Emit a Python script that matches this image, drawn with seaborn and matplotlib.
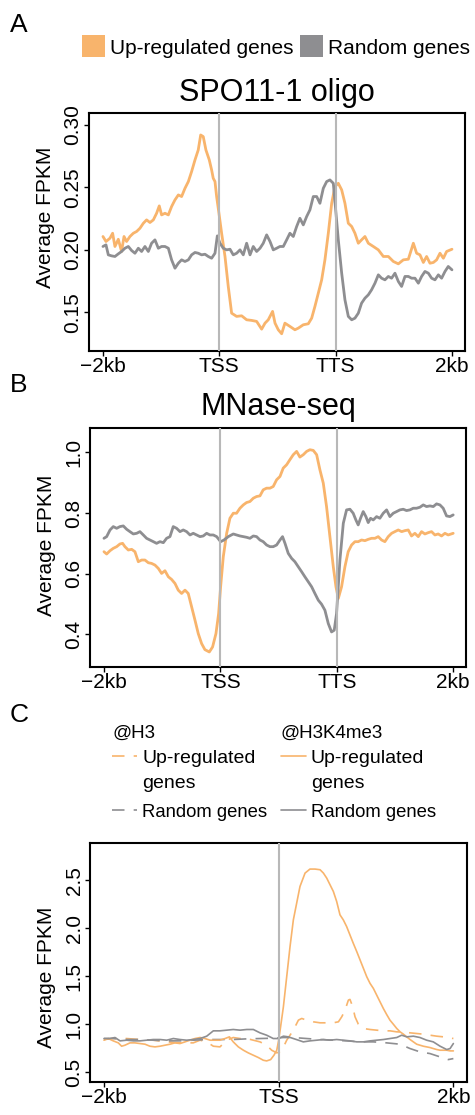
import numpy as np
import pandas as pd
import matplotlib
matplotlib.use("Agg")
import matplotlib.pyplot as plt
from matplotlib.patches import Rectangle
from matplotlib.lines import Line2D
import seaborn as sns

# ---------------------------------------------------------------------------
# Metagene profiles (x: 0 = -2kb, 1 = TSS, 2 = TTS, 3 = +2kb)
# ---------------------------------------------------------------------------
spo_up_x = [0.000, 0.026, 0.060, 0.083, 0.103, 0.132, 0.160, 0.181, 0.203, 0.232,
            0.261, 0.289, 0.318, 0.347, 0.375, 0.404, 0.433, 0.461, 0.484, 0.504,
            0.533, 0.562, 0.590, 0.619, 0.648, 0.676, 0.705, 0.734, 0.762, 0.791,
            0.819, 0.840, 0.862, 0.885, 0.914, 0.934, 0.948, 0.963, 0.977, 0.997,
            1.020, 1.049, 1.077, 1.106, 1.149, 1.192, 1.235, 1.278, 1.321, 1.364,
            1.393, 1.421, 1.458, 1.479, 1.507, 1.536, 1.564, 1.607, 1.650, 1.679,
            1.722, 1.765, 1.794, 1.822, 1.851, 1.880, 1.908, 1.937, 1.966, 1.994,
            2.023, 2.052, 2.080, 2.109, 2.138, 2.166, 2.195, 2.223, 2.252, 2.281,
            2.324, 2.367, 2.410, 2.453, 2.496, 2.539, 2.582, 2.625, 2.668, 2.696,
            2.725, 2.754, 2.782, 2.811, 2.840, 2.868, 2.897, 2.926, 2.954, 3.000]
spo_up_y = [0.2107, 0.2067, 0.2093, 0.2133, 0.2027, 0.2085, 0.1987, 0.2107, 0.2067, 0.2107,
            0.2133, 0.2147, 0.2173, 0.2213, 0.2240, 0.2219, 0.2240, 0.2293, 0.2352, 0.2280,
            0.2293, 0.2280, 0.2347, 0.2400, 0.2440, 0.2427, 0.2493, 0.2547, 0.2627, 0.2720,
            0.2800, 0.2920, 0.2907, 0.2800, 0.2720, 0.2640, 0.2573, 0.2547, 0.2427, 0.2293,
            0.2133, 0.1947, 0.1707, 0.1493, 0.1467, 0.1472, 0.1440, 0.1435, 0.1427, 0.1365,
            0.1413, 0.1440, 0.1507, 0.1413, 0.1360, 0.1328, 0.1413, 0.1387, 0.1360, 0.1373,
            0.1400, 0.1408, 0.1453, 0.1547, 0.1653, 0.1760, 0.1920, 0.2133, 0.2373, 0.2507,
            0.2533, 0.2480, 0.2373, 0.2213, 0.2187, 0.2133, 0.2053, 0.2080, 0.2107, 0.2053,
            0.2027, 0.2000, 0.1947, 0.1947, 0.1907, 0.1888, 0.1920, 0.1925, 0.2053, 0.1973,
            0.1960, 0.1899, 0.1947, 0.1893, 0.1899, 0.1920, 0.1973, 0.1933, 0.1987, 0.2005]

spo_rnd_x = [0.000, 0.026, 0.046, 0.074, 0.103, 0.132, 0.160, 0.189, 0.218, 0.246,
             0.275, 0.304, 0.332, 0.361, 0.390, 0.418, 0.447, 0.476, 0.504, 0.533,
             0.562, 0.590, 0.619, 0.648, 0.676, 0.705, 0.734, 0.762, 0.791, 0.819,
             0.848, 0.877, 0.905, 0.934, 0.963, 0.983, 1.006, 1.034, 1.063, 1.092,
             1.120, 1.149, 1.178, 1.206, 1.235, 1.264, 1.292, 1.321, 1.350, 1.378,
             1.407, 1.436, 1.464, 1.493, 1.521, 1.550, 1.579, 1.607, 1.636, 1.665,
             1.693, 1.722, 1.751, 1.779, 1.808, 1.837, 1.865, 1.894, 1.923, 1.951,
             1.980, 2.003, 2.023, 2.052, 2.080, 2.109, 2.138, 2.166, 2.195, 2.223,
             2.252, 2.281, 2.309, 2.338, 2.367, 2.395, 2.424, 2.453, 2.481, 2.510,
             2.539, 2.567, 2.596, 2.625, 2.653, 2.682, 2.711, 2.739, 2.768, 2.797,
             2.825, 2.854, 2.883, 2.911, 2.940, 2.968, 3.000]
spo_rnd_y = [0.2027, 0.2040, 0.1960, 0.1952, 0.1947, 0.1968, 0.1987, 0.2013, 0.2027, 0.1995,
             0.1973, 0.2013, 0.1987, 0.2027, 0.1987, 0.2053, 0.2080, 0.2013, 0.2027, 0.2027,
             0.2013, 0.1920, 0.1853, 0.1893, 0.1920, 0.1907, 0.1920, 0.1960, 0.1979, 0.1973,
             0.1960, 0.1965, 0.1947, 0.1933, 0.1973, 0.2112, 0.2053, 0.2013, 0.2000, 0.2005,
             0.1960, 0.1973, 0.2000, 0.1960, 0.2053, 0.1960, 0.2027, 0.1987, 0.2013, 0.2053,
             0.2120, 0.2067, 0.2000, 0.2013, 0.2027, 0.2027, 0.2080, 0.2133, 0.2107, 0.2187,
             0.2253, 0.2200, 0.2267, 0.2320, 0.2427, 0.2427, 0.2373, 0.2493, 0.2547, 0.2560,
             0.2533, 0.2293, 0.2080, 0.1813, 0.1600, 0.1467, 0.1440, 0.1453, 0.1493, 0.1573,
             0.1613, 0.1640, 0.1680, 0.1733, 0.1800, 0.1773, 0.1760, 0.1787, 0.1773, 0.1813,
             0.1747, 0.1707, 0.1787, 0.1787, 0.1773, 0.1773, 0.1733, 0.1787, 0.1827, 0.1813,
             0.1773, 0.1760, 0.1800, 0.1773, 0.1827, 0.1867, 0.1840]

mnase_up_x = [0.000, 0.023, 0.052, 0.080, 0.109, 0.137, 0.160, 0.180, 0.209, 0.238,
              0.266, 0.295, 0.324, 0.352, 0.381, 0.409, 0.438, 0.467, 0.495, 0.524,
              0.553, 0.581, 0.610, 0.638, 0.667, 0.696, 0.724, 0.753, 0.782, 0.810,
              0.839, 0.867, 0.905, 0.933, 0.962, 0.985, 1.002, 1.025, 1.054, 1.082,
              1.111, 1.139, 1.168, 1.197, 1.225, 1.254, 1.283, 1.311, 1.340, 1.368,
              1.397, 1.426, 1.454, 1.483, 1.512, 1.540, 1.569, 1.597, 1.626, 1.655,
              1.683, 1.712, 1.741, 1.769, 1.798, 1.827, 1.855, 1.884, 1.912, 1.941,
              1.970, 1.993, 2.013, 2.041, 2.070, 2.098, 2.127, 2.156, 2.184, 2.213,
              2.242, 2.270, 2.299, 2.328, 2.356, 2.385, 2.413, 2.442, 2.471, 2.499,
              2.528, 2.557, 2.585, 2.614, 2.642, 2.671, 2.700, 2.728, 2.757, 2.786,
              2.814, 2.843, 2.871, 2.900, 2.929, 2.957, 3.000]
mnase_up_y = [0.6724, 0.6647, 0.6757, 0.6835, 0.6890, 0.6978, 0.7000, 0.6890, 0.6780, 0.6802,
              0.6724, 0.6394, 0.6449, 0.6449, 0.6360, 0.6338, 0.6283, 0.6173, 0.6008, 0.6096,
              0.5897, 0.5809, 0.5677, 0.5456, 0.5346, 0.5456, 0.5346, 0.4905, 0.4463, 0.4022,
              0.3691, 0.3493, 0.3416, 0.3581, 0.4022, 0.4684, 0.5566, 0.6559, 0.7331, 0.7827,
              0.7993, 0.7993, 0.8158, 0.8268, 0.8346, 0.8379, 0.8489, 0.8544, 0.8566, 0.8765,
              0.8820, 0.8820, 0.8875, 0.9096, 0.9206, 0.9482, 0.9592, 0.9757, 0.9923, 1.0033,
              0.9846, 0.9923, 1.0033, 1.0088, 1.0066, 0.9923, 0.9426, 0.8985, 0.8213, 0.7221,
              0.6228, 0.5566, 0.5180, 0.5566, 0.6228, 0.6724, 0.6945, 0.7055, 0.7055, 0.7110,
              0.7088, 0.7132, 0.7166, 0.7166, 0.7221, 0.7110, 0.7055, 0.7221, 0.7331, 0.7386,
              0.7441, 0.7386, 0.7419, 0.7441, 0.7243, 0.7331, 0.7221, 0.7386, 0.7309, 0.7353,
              0.7386, 0.7276, 0.7309, 0.7243, 0.7331, 0.7276, 0.7331]

mnase_rnd_x = [0.000, 0.023, 0.052, 0.080, 0.109, 0.137, 0.166, 0.195, 0.223, 0.252,
               0.281, 0.309, 0.338, 0.366, 0.395, 0.424, 0.452, 0.481, 0.510, 0.538,
               0.567, 0.595, 0.624, 0.653, 0.681, 0.710, 0.739, 0.767, 0.796, 0.825,
               0.853, 0.882, 0.910, 0.939, 0.968, 1.002, 1.031, 1.068, 1.111, 1.139,
               1.168, 1.197, 1.225, 1.254, 1.283, 1.311, 1.340, 1.368, 1.397, 1.426,
               1.454, 1.483, 1.512, 1.534, 1.555, 1.583, 1.612, 1.640, 1.669, 1.698,
               1.726, 1.755, 1.784, 1.812, 1.841, 1.869, 1.898, 1.927, 1.955, 1.978,
               1.998, 2.027, 2.056, 2.084, 2.113, 2.141, 2.164, 2.184, 2.204, 2.227,
               2.250, 2.270, 2.290, 2.313, 2.342, 2.370, 2.399, 2.428, 2.456, 2.485,
               2.514, 2.542, 2.571, 2.599, 2.628, 2.657, 2.685, 2.714, 2.743, 2.771,
               2.800, 2.829, 2.857, 2.886, 2.914, 2.943, 2.972, 3.000]
mnase_rnd_y = [0.7166, 0.7221, 0.7441, 0.7552, 0.7496, 0.7552, 0.7574, 0.7463, 0.7386, 0.7309,
               0.7331, 0.7386, 0.7276, 0.7166, 0.7110, 0.7055, 0.7000, 0.7055, 0.7022, 0.7166,
               0.7221, 0.7552, 0.7496, 0.7386, 0.7441, 0.7386, 0.7276, 0.7331, 0.7276, 0.7221,
               0.7243, 0.7331, 0.7276, 0.7276, 0.7221, 0.7055, 0.7110, 0.7221, 0.7309, 0.7276,
               0.7243, 0.7221, 0.7199, 0.7166, 0.7243, 0.7221, 0.7110, 0.7055, 0.6945, 0.6890,
               0.6890, 0.6945, 0.7110, 0.7221, 0.7000, 0.6669, 0.6504, 0.6394, 0.6228, 0.6063,
               0.5897, 0.5732, 0.5566, 0.5346, 0.5125, 0.4993, 0.4794, 0.4353, 0.4077, 0.4133,
               0.4684, 0.6449, 0.7662, 0.8103, 0.8125, 0.7993, 0.7772, 0.7607, 0.7827, 0.8048,
               0.7882, 0.7684, 0.7827, 0.7772, 0.7882, 0.7827, 0.7993, 0.8103, 0.7882, 0.7993,
               0.8048, 0.8103, 0.8125, 0.8081, 0.8103, 0.8158, 0.8158, 0.8191, 0.8268, 0.8213,
               0.8235, 0.8213, 0.8302, 0.8268, 0.8158, 0.7904, 0.7882, 0.7938]

# Histone profiles around TSS (x: 0 = -2kb, 1 = TSS, 2 = +2kb)
k4_up_x = [0.000, 0.025, 0.053, 0.082, 0.101, 0.120, 0.149, 0.177, 0.206, 0.235,
           0.263, 0.292, 0.321, 0.349, 0.378, 0.406, 0.435, 0.464, 0.492, 0.521,
           0.550, 0.578, 0.607, 0.636, 0.664, 0.693, 0.718, 0.740, 0.769, 0.798,
           0.826, 0.855, 0.884, 0.912, 0.931, 0.954, 0.973, 0.989, 1.000, 1.011,
           1.027, 1.046, 1.065, 1.084, 1.103, 1.122, 1.151, 1.179, 1.208, 1.237,
           1.256, 1.275, 1.294, 1.313, 1.332, 1.351, 1.370, 1.389, 1.408, 1.427,
           1.447, 1.466, 1.485, 1.504, 1.523, 1.542, 1.561, 1.580, 1.599, 1.618,
           1.637, 1.656, 1.676, 1.695, 1.714, 1.733, 1.752, 1.771, 1.790, 1.809,
           1.828, 1.847, 1.866, 1.885, 1.905, 1.924, 1.943, 1.962, 1.981, 2.000]
k4_up_y = [0.8316, 0.8490, 0.8246, 0.8037, 0.7688, 0.7792, 0.8037, 0.8037, 0.7967, 0.7897,
           0.7688, 0.7618, 0.7688, 0.7792, 0.7897, 0.8037, 0.7967, 0.8141, 0.8316, 0.8490,
           0.8595, 0.8490, 0.8316, 0.8316, 0.8316, 0.8490, 0.8665, 0.8141, 0.7618, 0.7269,
           0.6990, 0.6745, 0.6501, 0.6222, 0.6152, 0.6291, 0.6745, 0.7269, 0.8316, 0.9712,
           1.1806, 1.4948, 1.8089, 2.0881, 2.2627, 2.4372, 2.5768, 2.6187, 2.6187, 2.6117,
           2.5768, 2.5244, 2.4546, 2.3848, 2.2801, 2.1405, 2.0881, 2.0183, 1.9311, 1.8438,
           1.7565, 1.6693, 1.5820, 1.4948, 1.4250, 1.3726, 1.3028, 1.2330, 1.1632, 1.1003,
           1.0410, 0.9991, 0.9538, 0.9188, 0.8944, 0.8665, 0.8386, 0.8141, 0.7897, 0.7792,
           0.7688, 0.7618, 0.7548, 0.7443, 0.7339, 0.7269, 0.7269, 0.7269, 0.7199, 0.7199]

h3_up_x = [0.000, 0.053, 0.130, 0.206, 0.282, 0.359, 0.435, 0.511, 0.550, 0.588,
           0.626, 0.664, 0.702, 0.740, 0.779, 0.817, 0.855, 0.893, 0.931, 0.960,
           0.989, 1.017, 1.046, 1.084, 1.113, 1.132, 1.160, 1.198, 1.237, 1.275,
           1.313, 1.342, 1.361, 1.380, 1.399, 1.408, 1.424, 1.437, 1.456, 1.485,
           1.523, 1.561, 1.599, 1.637, 1.676, 1.714, 1.752, 1.790, 1.828, 1.866,
           1.905, 1.943, 1.971, 2.000]
h3_up_y = [0.8386, 0.8490, 0.8490, 0.8386, 0.8316, 0.8141, 0.8037, 0.8037, 0.8316, 0.8141,
           0.7688, 0.7618, 0.8316, 0.8595, 0.8490, 0.8490, 0.8316, 0.8141, 0.7792, 0.7269,
           0.6990, 0.7199, 0.8316, 0.9363, 1.0410, 1.0585, 1.0410, 1.0236, 1.0131, 1.0131,
           1.0131, 1.0236, 1.0759, 1.1457, 1.2504, 1.2574, 1.1806, 1.0759, 0.9991, 0.9538,
           0.9433, 0.9363, 0.9293, 0.9293, 0.9188, 0.9154, 0.9084, 0.9014, 0.8944, 0.8839,
           0.8735, 0.8665, 0.8595, 0.8490]

k4_rnd_x = [0.000, 0.034, 0.063, 0.092, 0.130, 0.168, 0.206, 0.244, 0.282, 0.321,
            0.359, 0.397, 0.435, 0.473, 0.511, 0.550, 0.588, 0.626, 0.664, 0.702,
            0.740, 0.779, 0.817, 0.855, 0.893, 0.931, 0.969, 1.000, 1.027, 1.055,
            1.084, 1.113, 1.141, 1.179, 1.218, 1.256, 1.294, 1.332, 1.370, 1.408,
            1.447, 1.485, 1.523, 1.561, 1.599, 1.637, 1.676, 1.704, 1.733, 1.771,
            1.809, 1.847, 1.885, 1.924, 1.962, 1.981, 2.000]
k4_rnd_y = [0.8490, 0.8490, 0.8595, 0.8246, 0.8316, 0.8246, 0.8246, 0.8316, 0.8386, 0.8386,
            0.8316, 0.8490, 0.8386, 0.8316, 0.8386, 0.8490, 0.8735, 0.9293, 0.9293, 0.9363,
            0.9433, 0.9363, 0.9433, 0.9433, 0.9084, 0.8839, 0.8490, 0.8490, 0.8735, 0.8665,
            0.8490, 0.8316, 0.8141, 0.8246, 0.8316, 0.8386, 0.8316, 0.8386, 0.8316, 0.8246,
            0.8141, 0.8141, 0.8246, 0.8316, 0.8386, 0.8490, 0.8595, 0.8839, 0.8665, 0.8735,
            0.8595, 0.8316, 0.8141, 0.7688, 0.7339, 0.7443, 0.7967]

h3_rnd_x = [0.000, 0.053, 0.130, 0.206, 0.282, 0.359, 0.435, 0.511, 0.588, 0.664,
            0.740, 0.817, 0.893, 0.969, 1.027, 1.084, 1.160, 1.237, 1.313, 1.389,
            1.466, 1.542, 1.618, 1.695, 1.752, 1.809, 1.866, 1.924, 1.971, 2.000]
h3_rnd_y = [0.8490, 0.8490, 0.8386, 0.8386, 0.8316, 0.8246, 0.8246, 0.8316, 0.8386, 0.8386,
            0.8386, 0.8455, 0.8490, 0.8525, 0.8595, 0.8595, 0.8490, 0.8386, 0.8316, 0.8246,
            0.8141, 0.8141, 0.8037, 0.7897, 0.7443, 0.7094, 0.6920, 0.6571, 0.6291, 0.6396]

body_ticks = [0, 1, 2, 3]
body_labels = ["\u22122kb", "TSS", "TTS", "2kb"]
tss_ticks = [0, 1, 2]
tss_labels = ["\u22122kb", "TSS", "2kb"]
spo_yticks = [0.15, 0.20, 0.25, 0.30]
mnase_yticks = [0.4, 0.6, 0.8, 1.0]
hist_yticks = [0.5, 1.0, 1.5, 2.0, 2.5]

UP = "#F8B46C"
RND = "#8E8E91"
VLINE = "#B8B8B8"

sns.set_style("white")
plt.rcParams["font.family"] = ["Liberation Sans", "DejaVu Sans"]
plt.rcParams["axes.unicode_minus"] = True
for key in ("text.color", "axes.labelcolor", "xtick.color", "ytick.color",
            "xtick.labelcolor", "ytick.labelcolor"):
    plt.rcParams[key] = "black"

W, H = 475, 1115
fig = plt.figure(figsize=(W / 100, H / 100), dpi=100)


def fx(px):
    return px / W


def fy(py):
    return 1 - py / H


def profile_frame(pairs):
    rows = []
    for name, xs, ys in pairs:
        rows.append(pd.DataFrame({"pos": xs, "value": ys, "group": name}))
    return pd.concat(rows, ignore_index=True)


def style_axes(ax, xticks, xlabels, yticks, ylim, xlim, label_y):
    ax.set_xlim(*xlim)
    ax.set_ylim(*ylim)
    ax.set_xticks(xticks)
    ax.set_xticklabels(xlabels)
    ax.set_yticks(yticks)
    ax.set_yticklabels([f"{t:.2f}" if ylim[1] < 0.5 else f"{t:.1f}" for t in yticks])
    ax.tick_params(axis="both", direction="out", length=3.6, width=1.0,
                   labelsize=15, pad=1, color="black", labelcolor="black",
                   bottom=True, left=True)
    ax.tick_params(axis="y", labelrotation=90)
    for lbl in ax.get_yticklabels():
        lbl.set_verticalalignment("center")
    for side in ax.spines.values():
        side.set_visible(True)
        side.set_linewidth(1.5)
        side.set_color("black")
    ax.set_xlabel("")
    ax.set_ylabel("Average FPKM", fontsize=15, color="black")
    ax.yaxis.set_label_coords(-0.09, label_y)


# ---------------- Panel A: SPO11-1 oligo ----------------
axA = fig.add_axes([fx(89), fy(351), fx(376), 238 / H])
dfA = profile_frame([("up", spo_up_x, spo_up_y), ("rnd", spo_rnd_x, spo_rnd_y)])
sns.lineplot(data=dfA, x="pos", y="value", hue="group", palette={"up": UP, "rnd": RND},
             estimator=None, sort=False, legend=False, linewidth=2.0, ax=axA)
for v in (1, 2):
    axA.axvline(v, color=VLINE, lw=1.5, zorder=5)
style_axes(axA, body_ticks, body_labels, spo_yticks, (0.119, 0.3096), (-0.120, 3.112), 0.563)
axA.set_title("SPO11-1 oligo", fontsize=22, pad=8.6, color="black")

# ---------------- Panel B: MNase-seq ----------------
axB = fig.add_axes([fx(90), fy(667), fx(376), 239 / H])
dfB = profile_frame([("up", mnase_up_x, mnase_up_y), ("rnd", mnase_rnd_x, mnase_rnd_y)])
sns.lineplot(data=dfB, x="pos", y="value", hue="group", palette={"up": UP, "rnd": RND},
             estimator=None, sort=False, legend=False, linewidth=2.0, ax=axB)
for v in (1, 2):
    axB.axvline(v, color=VLINE, lw=1.5, zorder=5)
style_axes(axB, body_ticks, body_labels, mnase_yticks, (0.292, 1.0805), (-0.120, 3.110), 0.510)
axB.set_title("MNase-seq", fontsize=22, pad=9.4, color="black")

# ---------------- Panel C: H3 / H3K4me3 ----------------
axC = fig.add_axes([fx(90), fy(1082), fx(377), 239 / H])
dfC = profile_frame([("h3_up", h3_up_x, h3_up_y), ("h3_rnd", h3_rnd_x, h3_rnd_y),
                     ("k4_up", k4_up_x, k4_up_y), ("k4_rnd", k4_rnd_x, k4_rnd_y)])
dash = (7.5, 5.5)
sns.lineplot(data=dfC, x="pos", y="value", hue="group", style="group",
             palette={"h3_up": UP, "h3_rnd": RND, "k4_up": UP, "k4_rnd": RND},
             dashes={"h3_up": dash, "h3_rnd": dash, "k4_up": "", "k4_rnd": ""},
             estimator=None, sort=False, legend=False, linewidth=1.2, ax=axC)
axC.axvline(1, color=VLINE, lw=1.5, zorder=5)
style_axes(axC, tss_ticks, tss_labels, hist_yticks, (0.395, 2.891), (-0.080, 2.078), 0.439)

# ---------------- Panel letters ----------------
fig.text(fx(10), fy(32), "A", fontsize=19, va="baseline")
fig.text(fx(10), fy(392), "B", fontsize=19, va="baseline")
fig.text(fx(10), fy(722), "C", fontsize=19, va="baseline")

# ---------------- Legend for A/B ----------------
fig.add_artist(Rectangle((fx(82), fy(57)), fx(23), 22 / H, transform=fig.transFigure,
                         facecolor=UP, edgecolor="none"))
fig.text(fx(110), fy(54.5), "Up-regulated genes", fontsize=15, va="baseline")
fig.add_artist(Rectangle((fx(300), fy(57)), fx(23), 22 / H, transform=fig.transFigure,
                         facecolor=RND, edgecolor="none"))
fig.text(fx(328), fy(54.5), "Random genes", fontsize=15, va="baseline")

# ---------------- Legend for C ----------------
for col_x, head, ls in ((112, "@H3", (0, dash)), (281, "@H3K4me3", "-")):
    fig.text(fx(col_x), fy(738), head, fontsize=13.5, va="baseline")
    fig.add_artist(Line2D([fx(col_x), fx(col_x + 25)], [fy(756), fy(756)],
                          transform=fig.transFigure, color=UP, lw=1.2, linestyle=ls))
    fig.add_artist(Line2D([fx(col_x), fx(col_x + 25)], [fy(810), fy(810)],
                          transform=fig.transFigure, color=RND, lw=1.2, linestyle=ls))
    fig.text(fx(col_x + 30), fy(763), "Up-regulated", fontsize=14, va="baseline")
    fig.text(fx(col_x + 30), fy(788), "genes", fontsize=14, va="baseline")
    fig.text(fx(col_x + 30), fy(817), "Random genes", fontsize=13.3, va="baseline")

fig.savefig("out.png", dpi=100)
